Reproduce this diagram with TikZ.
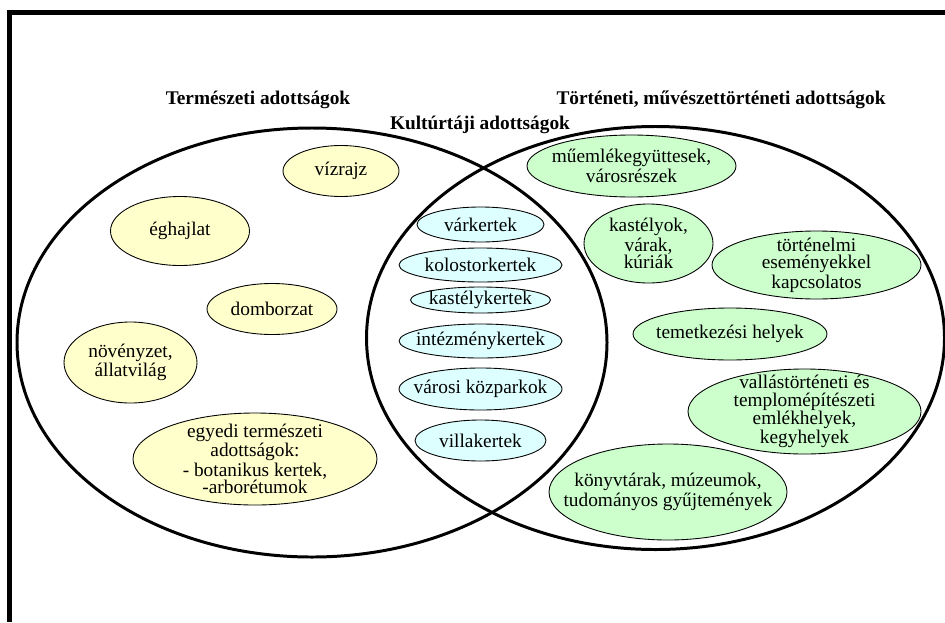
\documentclass[tikz,border=0pt]{standalone}
\usepackage{fontspec}
\setmainfont{Liberation Serif}
\definecolor{yelfill}{HTML}{FFFFCC}
\definecolor{cyanfill}{HTML}{DDFFFF}
\definecolor{grnfill}{HTML}{CCFFCC}
\tikzset{every picture/.style={x=0.02cm, y=-0.02cm}}

\begin{document}
\begin{tikzpicture}[
    big/.style={line width=1.7pt},
    oval/.style={draw, line width=0.5pt},
    yel/.style={oval, fill=yelfill},
    cya/.style={oval, fill=cyanfill},
    grn/.style={oval, fill=grnfill},
    txt/.style={align=center, inner sep=0pt, font=\fontsize{11}{10}\selectfont},
    head/.style={anchor=base, inner sep=0pt, font=\fontsize{11}{13}\selectfont\bfseries}]
    \useasboundingbox (0,0) rectangle (945,622);

    % Frame
    \draw[line width=2.5pt] (945,12.5) -- (9.5,12.5) -- (9.5,622);

    % Headings
    \node[head] (termhead) at (258,104) {Természeti adottságok};
    \node[head] (kulthead) at (480,129.5) {Kultúrtáji adottságok};
    \node[head] (torthead) at (721,104) {Történeti, művészettörténeti adottságok};

    % Define centres of the two sets
    \coordinate (term) at (312,342.5);
    \coordinate (tort) at (655.5,338);

    % Two big sets
    \draw[big] (term) ellipse [x radius=295, y radius=214.5];
    \draw[big] (tort) ellipse [x radius=289, y radius=211.5];

    % Természeti adottságok
    \filldraw[yel] (341,171) ellipse [x radius=58, y radius=25.5];
    \node[txt] (vizrajz) at (341,171) {vízrajz};
    \filldraw[yel] (180,231) ellipse [x radius=69.5, y radius=34.5];
    \node[txt] (eghajlat) at (180,231) {éghajlat};
    \filldraw[yel] (272,309) ellipse [x radius=65, y radius=25.5];
    \node[txt] (dombor) at (272,309) {domborzat};
    \filldraw[yel] (130.5,362.5) ellipse [x radius=66.5, y radius=40.5];
    \node[txt] (noveny) at (130.5,362.5) {növényzet,\\ állatvilág};
    \filldraw[yel] (255,459) ellipse [x radius=122, y radius=46];
    \node[txt] (egyedi) at (255,459) {egyedi természeti\\ adottságok:\\ - botanikus kertek,\\ -arborétumok};

    % Kultúrtáji adottságok
    \foreach \cy/\rx/\ry/\name/\txt in {224.5/63.5/17.5/varkert/várkertek,
        265/81.5/17/kolostor/kolostorkertek, 300/70/13/kastkert/kastélykertek,
        341/81.5/17/intezmeny/intézménykertek, 389/81.5/21/kozpark/városi közparkok,
        440.5/65.5/20.5/villa/villakertek} {
        \filldraw[cya] (480.5,\cy) ellipse [x radius=\rx, y radius=\ry];
        \node[txt] (\name) at (480.5,\cy) {\txt};
    }

    % Történeti, művészettörténeti adottságok
    \filldraw[grn] (631.5,166) ellipse [x radius=104.5, y radius=31];
    \node[txt] (muemlek) at (631.5,166) {műemlékegyüttesek,\\ városrészek};
    \filldraw[grn] (648.5,243.5) ellipse [x radius=64.5, y radius=39.5];
    \node[txt] (kastely) at (648.5,243.5) {kastélyok,\\ várak,\\ kúriák};
    \filldraw[grn] (816.5,265) ellipse [x radius=104.5, y radius=34];
    \node[txt] (tortenelmi) at (816.5,265) {történelmi\\ eseményekkel\\ kapcsolatos};
    \filldraw[grn] (730,334) ellipse [x radius=97, y radius=26];
    \node[txt] (temetkezes) at (730,334) {temetkezési helyek};
    \filldraw[grn] (804.5,411.5) ellipse [x radius=116.5, y radius=42.5];
    \node[txt] (vallas) at (804.5,411.5) {vallástörténeti és\\ templomépítészeti\\ emlékhelyek,\\ kegyhelyek};
    \filldraw[grn] (668,492) ellipse [x radius=119, y radius=48];
    \node[txt] (konyvtar) at (668,492) {könyvtárak, múzeumok,\\ tudományos gyűjtemények};
\end{tikzpicture}
\end{document}
